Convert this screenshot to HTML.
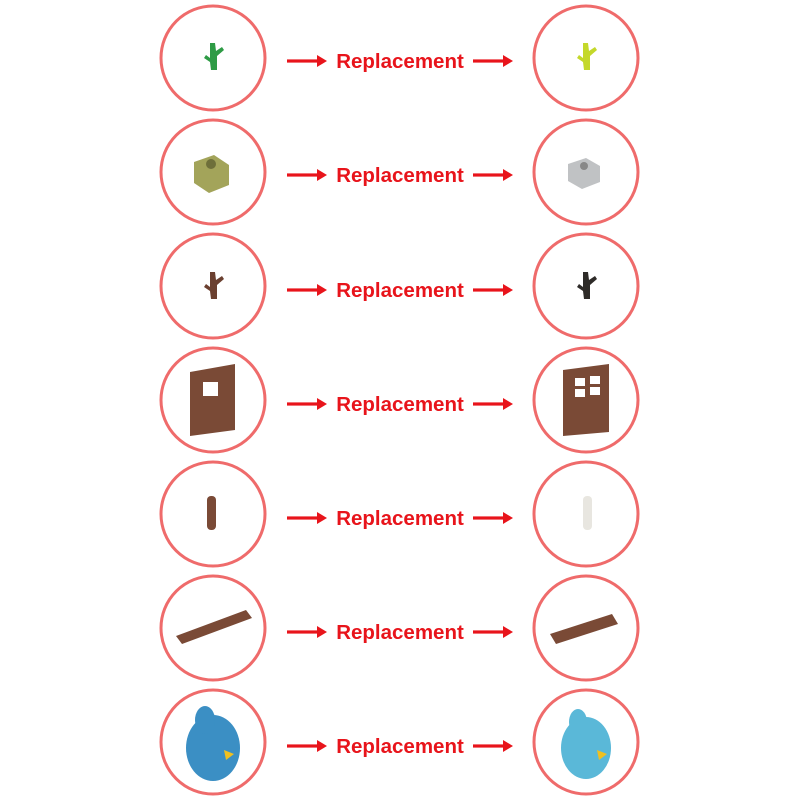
<!DOCTYPE html>
<html><head><style>
body{margin:0;width:800px;height:800px;background:#fff;overflow:hidden}
</style></head><body>
<svg width="800" height="800" xmlns="http://www.w3.org/2000/svg">
<defs>
<g id="arr"><rect x="0" y="-1.6" width="31" height="3.2" fill="#e8141b"/><polygon points="30,-6 40,0 30,6" fill="#e8141b"/></g>
<g id="c"><circle cx="213" cy="0" r="52" fill="none" stroke="#ef6b6b" stroke-width="3"/><circle cx="586" cy="0" r="52" fill="none" stroke="#ef6b6b" stroke-width="3"/></g>
</defs>
<g font-family="Liberation Sans, sans-serif" font-weight="bold" font-size="20.5" fill="#e8141b" text-anchor="middle">
<g transform="translate(0,61)"><use href="#arr" x="287" y="0"/><use href="#arr" x="473" y="0"/><text x="400" y="7">Replacement</text></g>
<g transform="translate(0,175)"><use href="#arr" x="287" y="0"/><use href="#arr" x="473" y="0"/><text x="400" y="7">Replacement</text></g>
<g transform="translate(0,290)"><use href="#arr" x="287" y="0"/><use href="#arr" x="473" y="0"/><text x="400" y="7">Replacement</text></g>
<g transform="translate(0,404)"><use href="#arr" x="287" y="0"/><use href="#arr" x="473" y="0"/><text x="400" y="7">Replacement</text></g>
<g transform="translate(0,518)"><use href="#arr" x="287" y="0"/><use href="#arr" x="473" y="0"/><text x="400" y="7">Replacement</text></g>
<g transform="translate(0,632)"><use href="#arr" x="287" y="0"/><use href="#arr" x="473" y="0"/><text x="400" y="7">Replacement</text></g>
<g transform="translate(0,746)"><use href="#arr" x="287" y="0"/><use href="#arr" x="473" y="0"/><text x="400" y="7">Replacement</text></g>
</g>
<g transform="translate(0,58)"><use href="#c"/>
<path d="M210,-15 l5,0 l1,8 l6,-4 l2,3 l-7,6 l0,14 l-6,0 l-1,-8 l-6,-4 l2,-3 l4,3z" fill="#2e9b45"/>
<path d="M583,-15 l5,0 l1,8 l6,-4 l2,3 l-7,6 l0,14 l-6,0 l-1,-8 l-6,-4 l2,-3 l4,3z" fill="#c4d82a"/>
</g>
<g transform="translate(0,172)"><use href="#c"/>
<path d="M194,-10 l20,-7 l15,10 l0,20 l-20,8 l-15,-10z" fill="#a3a45a"/><circle cx="211" cy="-8" r="5" fill="#6e6f3a"/>
<path d="M568,-8 l18,-6 l14,8 l0,16 l-18,7 l-14,-8z" fill="#c0c2c4"/><circle cx="584" cy="-6" r="4" fill="#888"/>
</g>
<g transform="translate(0,286)"><use href="#c"/>
<path d="M210,-14 l5,0 l1,8 l6,-4 l2,3 l-7,6 l0,14 l-6,0 l-1,-8 l-6,-4 l2,-3 l4,3z" fill="#6b4030"/>
<path d="M583,-14 l5,0 l1,8 l6,-4 l2,3 l-7,6 l0,14 l-6,0 l-1,-8 l-6,-4 l2,-3 l4,3z" fill="#2e2b28"/>
</g>
<g transform="translate(0,400)"><use href="#c"/>
<path d="M190,-28 l45,-8 l0,66 l-45,6z" fill="#7a4a36"/><rect x="203" y="-18" width="15" height="14" fill="#fff"/>
<path d="M563,-30 l46,-6 l0,68 l-46,4z" fill="#7a4a36"/><rect x="575" y="-22" width="10" height="8" fill="#fff"/><rect x="590" y="-24" width="10" height="8" fill="#fff"/><rect x="575" y="-11" width="10" height="8" fill="#fff"/><rect x="590" y="-13" width="10" height="8" fill="#fff"/>
</g>
<g transform="translate(0,514)"><use href="#c"/>
<rect x="207" y="-18" width="9" height="34" rx="4" fill="#7a4a36"/>
<rect x="583" y="-18" width="9" height="34" rx="4" fill="#e8e6e0"/>
</g>
<g transform="translate(0,628)"><use href="#c"/>
<path d="M176,8 l70,-26 l6,8 l-70,26z" fill="#7a4a36"/>
<path d="M550,6 l62,-20 l6,10 l-62,20z" fill="#7a4a36"/>
</g>
<g transform="translate(0,742)"><use href="#c"/>
<ellipse cx="213" cy="6" rx="27" ry="33" fill="#3b8fc4"/><ellipse cx="205" cy="-22" rx="10" ry="14" fill="#3b8fc4"/><polygon points="224,8 234,12 226,18" fill="#f0c020"/>
<ellipse cx="586" cy="6" rx="25" ry="31" fill="#5ab8d8"/><ellipse cx="578" cy="-20" rx="9" ry="13" fill="#5ab8d8"/><polygon points="597,8 607,12 599,18" fill="#f0c020"/>
</g>
</svg>
</body></html>
